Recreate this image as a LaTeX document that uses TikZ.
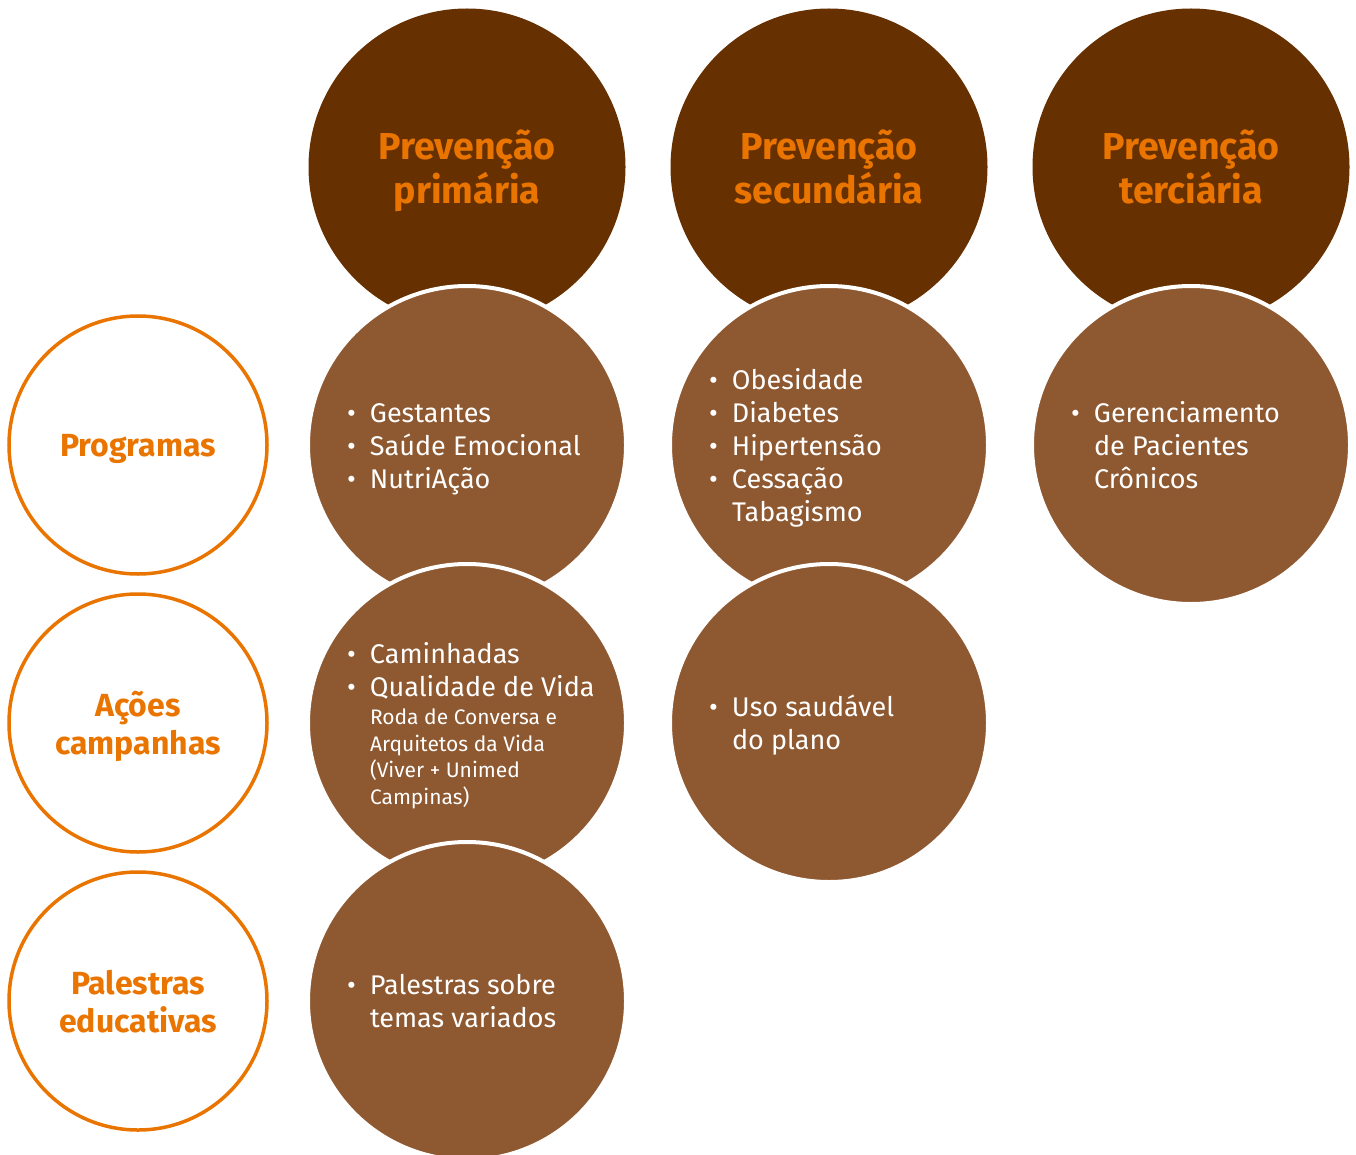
\documentclass[tikz,border=0pt]{standalone}
\usepackage{fontspec}
\setmainfont{Fira Sans}
\usetikzlibrary{positioning}
\definecolor{darkbrown}{RGB}{102,48,0}
\definecolor{midbrown}{RGB}{142,88,48}
\definecolor{unorange}{RGB}{234,116,0}
\tikzset{node distance=278pt, auto}
\newcommand{\bul}{\makebox[23pt][l]{•}}
\newcommand{\ind}{\hspace*{23pt}}
\newcommand{\sm}{\fontsize{21}{26.5}\selectfont}
\newcommand{\itemtop}{\rule{0pt}{30pt}}

\begin{document}
\begin{tikzpicture}[
    head/.style={circle, fill=darkbrown, minimum size=317pt, inner sep=0pt,
      text=unorange, font=\fontsize{37.5}{44}\selectfont\bfseries, align=center,
      text depth=0pt},
    item/.style={circle, fill=midbrown, draw=white, line width=4pt,
      minimum size=318pt, inner sep=0pt, text=white,
      font=\fontsize{27}{33}\selectfont, text width=240pt, align=flush left},
    side/.style={circle, draw=unorange, line width=3.5pt, minimum size=258pt,
      inner sep=0pt, text=unorange, font=\fontsize{32}{38}\selectfont\bfseries,
      align=center, text depth=0pt}]

    \useasboundingbox (0,0) rectangle (1356pt,-1155pt);

    % prevention levels
    \node[head] (PrevPrim) at (467pt,-167pt) {Prevenção\\primária};
    \node[head, right of=PrevPrim, node distance=362pt] (PrevSec) {Prevenção\\secundária};
    \node[head, right of=PrevSec, node distance=362pt] (PrevTerc) {Prevenção\\terciária};

    % programas
    \node[item, below of=PrevPrim] (ProgPrim) {\itemtop\bul Gestantes\\\bul Saúde Emocional\\\bul NutriAção\strut};
    \node[item, below of=PrevSec] (ProgSec) {\itemtop\bul Obesidade\\\bul Diabetes\\\bul Hipertensão\\\bul Cessação\\\ind Tabagismo\strut};
    \node[item, below of=PrevTerc] (ProgTerc) {\itemtop\bul Gerenciamento\\\ind de Pacientes\\\ind Crônicos\strut};

    % acoes e campanhas
    \node[item, below of=ProgPrim] (AcaoPrim) {\rule{0pt}{26pt}\bul Caminhadas\\
      \mbox{\bul Qualidade de Vida}\\[-5pt]
      \ind\parbox[t]{220pt}{\sm\raggedright Roda de Conversa e\\Arquitetos da Vida\\(Viver + Unimed\\Campinas)}};
    \node[item, below of=ProgSec] (AcaoSec) {\itemtop\bul Uso saudável\\\ind do plano\strut};

    % palestras
    \node[item, below of=AcaoPrim] (PalePrim) {\itemtop\bul Palestras sobre\\\ind temas variados\strut};

    % row labels
    \node[side, left of=ProgPrim, node distance=329pt] (Programas) {Programas};
    \node[side, left of=AcaoPrim, node distance=329pt] (Acoes) {Ações\\campanhas};
    \node[side, left of=PalePrim, node distance=329pt] (Palestras) {Palestras\\educativas};

\end{tikzpicture}
\end{document}
